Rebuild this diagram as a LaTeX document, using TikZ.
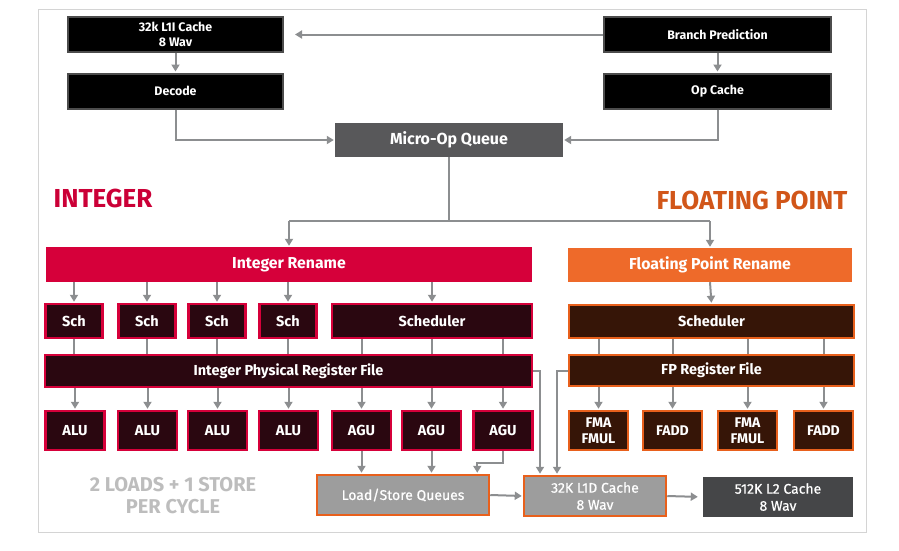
\documentclass[tikz,border=0pt]{standalone}
\usepackage{fontspec}
\setmainfont{Fira Sans}
\newfontfamily\medfont{Fira Sans}[FakeBold=0.6]
\usepackage{tikz}
\usetikzlibrary{arrows.meta,positioning,calc}
\definecolor{intred}{HTML}{D6003A}
\definecolor{intdark}{HTML}{2A0710}
\definecolor{fporange}{HTML}{EE6A2A}
\definecolor{fpline}{HTML}{E8601C}
\definecolor{fpdark}{HTML}{361507}
\definecolor{wiregray}{HTML}{8C8E90}
\definecolor{qgray}{HTML}{58585A}
\definecolor{l2gray}{HTML}{454648}
\definecolor{lsgray}{HTML}{9D9D9D}
\definecolor{labelgray}{HTML}{BDBDBD}
\definecolor{framegray}{HTML}{D4D4D4}

\begin{document}
\begin{tikzpicture}[x=1pt,y=-1pt,
  box/.style={inner sep=0pt, align=center, text=white, font=\bfseries\fontsize{14.5}{17}\selectfont},
  frontbox/.style={box, fill=black, draw=black!70, line width=2pt, minimum width=215pt, minimum height=35pt, font=\bfseries\fontsize{12.4}{15}\selectfont},
  intbox/.style={box, fill=intdark, draw=intred, line width=2.5pt},
  fpbox/.style={box, fill=fpdark, draw=fpline, line width=2.5pt},
  unit/.style={minimum width=59pt, minimum height=39pt},
  renamebox/.style={box, font=\bfseries\fontsize{15.8}{18}\selectfont},
  membox/.style={box, fill=lsgray, draw=fpline, line width=2.5pt, minimum height=40pt, font=\medfont\fontsize{14}{17}\selectfont},
  wire/.style={draw=wiregray, line width=2pt},
  arr/.style={wire, -{Triangle[length=7pt,width=8pt]}, shorten >=1pt},
]
  \useasboundingbox (0,0) rectangle (899,550);
  % frame
  \draw[framegray, line width=1pt] (38,9) rectangle (866,532);

  % front end
  \node[frontbox] (l1i) at (175.5,34.5) {32k L1I Cache\\8 Wav};
  \node[frontbox] (dec) at (175.5,91) {Decode};
  \node[frontbox, minimum width=227pt] (bp) at (717.5,34.5) {Branch Prediction};
  \node[frontbox, minimum width=227pt] (opc) at (717.5,91) {Op Cache};
  \node[box, fill=qgray, minimum width=228pt, minimum height=34pt, font=\bfseries\fontsize{16}{18}\selectfont] (moq) at (449,140) {Micro-Op Queue};

  \draw[arr, shorten >=11pt] (bp.west) -- (l1i.east);
  \draw[arr] (l1i.south) -- (dec.north);
  \draw[arr] (bp.south) -- (opc.north);
  \draw[arr] (dec.south) |- (moq.west);
  \draw[arr] (opc.south) |- (moq.east);

  % section titles
  \node[text=intred!95!black, font=\bfseries\fontsize{26}{28}\selectfont] (inttitle) at (103,198) {INTEGER};
  \node[text=fpline!90!black, font=\bfseries\fontsize{26}{28}\selectfont] (fptitle) at (752,200) {FLOATING POINT};

  % rename
  \node[renamebox, fill=intred, minimum width=486pt, minimum height=35pt] (irn) at (289,264.5) {Integer Rename};
  \node[renamebox, fill=fporange, minimum width=284pt, minimum height=34pt] (frn) at (710,265) {Floating Point Rename};
  \coordinate (split) at (449,221);
  \draw[wire] (moq.south) -- (split);
  \draw[wire] (irn.north |- split) -- (frn.north |- split);
  \draw[arr] (irn.north |- split) -- (irn.north);
  \draw[arr] (frn.north |- split) -- (frn.north);

  % integer side
  \foreach \x/\n in {74/1,147/2,217/3,288/4}
    \node[intbox, minimum width=57pt, minimum height=34pt] (sch\n) at (\x,321) {Sch};
  \node[intbox, minimum width=200pt, minimum height=34pt] (isch) at (432,321) {Scheduler};
  \node[intbox, minimum width=487pt, minimum height=32pt] (iprf) at (288.5,371) {Integer Physical Register File};
  \foreach \x/\n in {75/1,147.5/2,217.5/3,288.5/4}
    \node[intbox, unit] (alu\n) at (\x,430.5) {ALU};
  \foreach \x/\n in {361.5/1,431.5/2,503/3}
    \node[intbox, unit] (agu\n) at (\x,430.5) {AGU};

  \foreach \n in {1,...,4} {
    \draw[arr] (sch\n.north |- irn.south) -- (sch\n.north);
    \draw[wire] (sch\n.south) -- (sch\n.south |- iprf.north);
    \draw[arr] (alu\n.north |- iprf.south) -- (alu\n.north);
  }
  \draw[arr] (isch.north |- irn.south) -- (isch.north);
  \foreach \n in {1,2,3} {
    \draw[wire] (agu\n.north |- isch.south) -- (agu\n.north |- iprf.north);
    \draw[arr] (agu\n.north |- iprf.south) -- (agu\n.north);
  }

  % floating point side
  \node[fpbox, minimum width=285pt, minimum height=33pt] (fsch) at (711.5,321.5) {Scheduler};
  \node[fpbox, minimum width=285pt, minimum height=31pt] (fprf) at (711.5,370.5) {FP Register File};
  \foreach \x/\n/\t in {598.5/1/{FMA\\FMUL},672.5/2/FADD,747.5/3/{FMA\\FMUL},823.5/4/FADD}
    \node[fpbox, unit, font=\bfseries\fontsize{14}{16}\selectfont] (fpu\n) at (\x,430.5) {\t};
  \draw[arr] (frn.south) -- (fsch.north);
  \foreach \n in {1,...,4} {
    \draw[wire] (fpu\n.north |- fsch.south) -- (fpu\n.north |- fprf.north);
    \draw[arr] (fpu\n.north |- fprf.south) -- (fpu\n.north);
  }

  % load/store and caches
  \node[membox, minimum width=172pt] (lsq) at (403,495) {Load/Store Queues};
  \node[membox, minimum width=142pt] (l1d) at (595,496) {32K L1D Cache\\8 Wav};
  \node[box, fill=l2gray, minimum width=150pt, minimum height=40pt, font=\medfont\fontsize{14}{17}\selectfont] (l2) at (778,497) {512K L2 Cache\\8 Wav};

  \draw[arr] (agu1.south) -- (agu1.south |- lsq.north);
  \draw[arr] (agu2.south) -- (agu2.south |- lsq.north);
  \draw[arr] (agu3.south) -- ++(0,12) -| ([xshift=-13pt]lsq.north east);
  \draw[arr] (iprf.east) -| ([xshift=-55pt]l1d.north);
  \draw[arr] (fprf.west) -| ([xshift=-38pt]l1d.north);
  \draw[arr] (lsq.east) -- (l1d.west);
  \draw[arr, shorten >=5pt] (l1d.east) -- (l2.west);

  \node[text=labelgray, align=center, font=\bfseries\fontsize{20}{22}\selectfont] (ldst) at (173,496) {2 LOADS + 1 STORE\\PER CYCLE};
\end{tikzpicture}
\end{document}
